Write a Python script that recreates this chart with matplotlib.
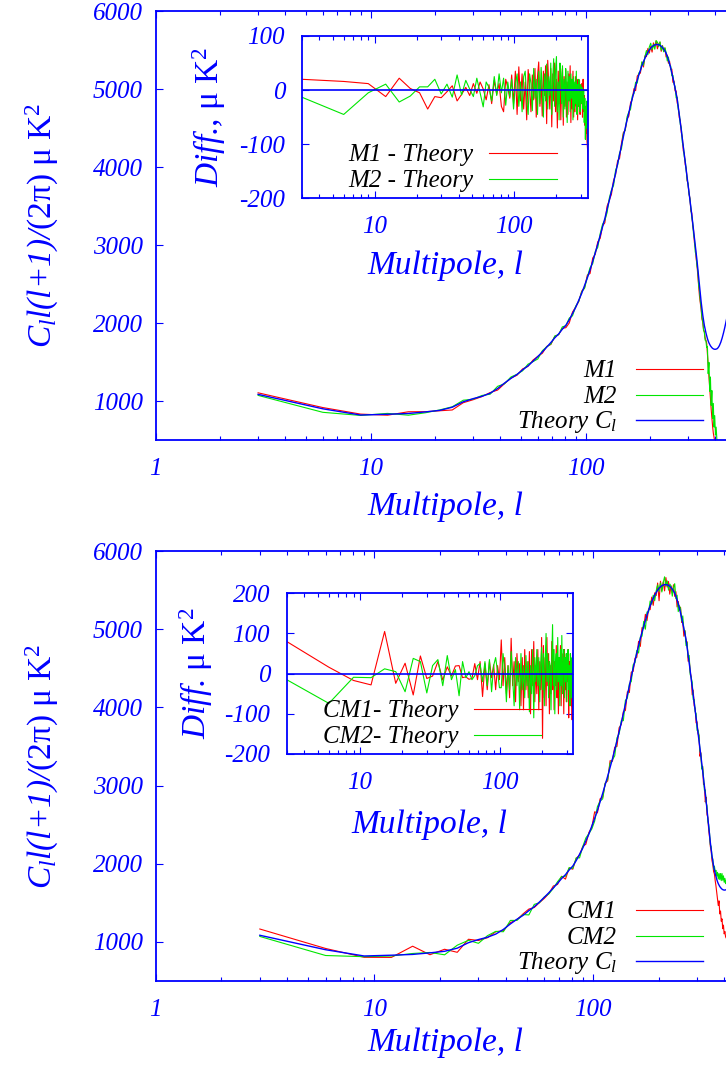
import numpy as np
import matplotlib
matplotlib.use('Agg')
import matplotlib.pyplot as plt
from matplotlib.lines import Line2D
from matplotlib.ticker import FixedLocator, FixedFormatter, LogLocator, NullFormatter, NullLocator

# ---------------- data ----------------
ell = np.arange(3, 454, 3)  # multipole grid (binned every 3)

theory = [1085, 900, 820, 830, 840, 860, 880, 920, 990, 1030,
          1060, 1100, 1160, 1230, 1290, 1340, 1400, 1450, 1510, 1570,
          1630, 1690, 1750, 1810, 1860, 1920, 1970, 2040, 2120, 2200,
          2290, 2380, 2480, 2580, 2680, 2790, 2900, 3010, 3120, 3230,
          3340, 3460, 3570, 3690, 3800, 3920, 4040, 4160, 4280, 4390,
          4500, 4600, 4700, 4790, 4880, 4960, 5040, 5110, 5180, 5240,
          5300, 5350, 5395, 5435, 5470, 5500, 5525, 5543, 5556, 5565,
          5570, 5570, 5568, 5560, 5548, 5532, 5512, 5488, 5460, 5420,
          5375, 5325, 5270, 5210, 5145, 5080, 5010, 4940, 4870, 4770,
          4670, 4570, 4470, 4360, 4260, 4160, 4060, 3965, 3870, 3775,
          3680, 3585, 3485, 3390, 3290, 3195, 3095, 3000, 2905, 2800,
          2690, 2580, 2470, 2370, 2270, 2180, 2100, 2030, 1970, 1920,
          1875, 1835, 1800, 1770, 1745, 1725, 1708, 1695, 1684, 1675,
          1669, 1665, 1663, 1663, 1665, 1668, 1675, 1685, 1698, 1714,
          1733, 1755, 1780, 1808, 1838, 1870, 1903, 1938, 1975, 2013,
          2050]

# M1 - Theory (top)
diff_m1 = [20, 16, 12, -12, 22, 3, -5, -35, -12, -14,
           -3, 8, -20, -8, 5, -10, 12, -6, 15, 2,
           -18, 10, -25, 18, -8, 12, -30, -40, 20, 5,
           -15, 28, -25, 35, -45, 43, -20, 30, -35, 15,
           -55, 38, 5, -40, 28, -18, 40, -50, 25, 52,
           -30, 18, -48, 35, -10, 45, -62, 55, 10, -35,
           40, -68, 30, -20, 50, -40, 20, -70, 35, -25,
           48, -55, 10, 40, -65, 25, -30, 38, -50, 15,
           -45, 30, -20, 45, -60, 20, -35, 35, -50, 10,
           -40, 25, -30, 20, -55, 15, -30, 18, -45, 5,
           -25, 12, -50, 20, -40, -10, -65, -30, -80, -60,
           -95, -110, -130, -120, -100, -130, -90, -120, -80, -110,
           -100, -90, -200, -320, -450, -560, -680, -800, -900, -1000,
           -1080, -1130, -1180, -1250]

# M2 - Theory (top)
diff_m2 = [-13, -45, -5, 11, -22, -11, 6, 6, 20, -7,
           11, -13, 28, -9, 18, 2, -12, 22, -5, -31,
           15, 5, -20, 25, -10, 30, -5, 22, -28, 15,
           -12, 20, -35, 10, 30, -30, 15, -40, 25, 35,
           -20, -45, 30, 12, -38, 40, -15, 20, -45, 35,
           -25, 42, 5, -50, 30, -20, 48, -35, 25, -10,
           50, -45, 20, 58, -30, 38, 62, -40, 15, -55,
           50, 30, -25, 45, -50, 20, -35, 40, 10, -60,
           35, -20, 25, -40, 30, -15, 20, -55, 25, -35,
           15, -25, 35, -45, 10, -30, 20, -15, -40, 10,
           -25, 5, -20, -35, 0, -60, -15, -91, -30, -70,
           -20, -100, -60, -90, -70, -110, -80, -120, -90, -140,
           -100, -150, -100, -420, -250, -600, -400, -750, -550, -900,
           -700, -1000, -850, -1100, -1000, -1150, -1250, -1300]

# CM1 - Theory (bottom)
diff_cm1 = [80, 16, -17, -28, 105, -24, 26, -53, 44, -12,
            -6, 30, -16, 17, -6, 19, 20, -10, -8, -14,
            -12, 25, -15, 30, -57, 25, -40, 30, -10, 22,
            -40, 20, -15, 84, -30, 40, -50, 20, -60, 88,
            -30, 30, -70, 50, -20, 25, -80, 40, -90, 60,
            -40, 30, -60, 55, -100, 60, -30, 80, -70, 20,
            -50, 60, -90, 30, -40, 90, -161, 70, -60, 40,
            -80, 90, -30, 50, -100, 20, -50, 80, -40, 60,
            -90, 30, -30, 70, -60, 10, -100, 40, -30, 70,
            -80, 50, -20, 30, -100, 60, -40, 20, -70, 40,
            -20, 60, -110, 30, -50, 50, -80, 20, -115, 50,
            -60, 10, -40, -30, -50, -20, -60, -40, -70, -50,
            -90, -120, -170, -220, -280, -200, -350, -300, -420, -380,
            -500, -450, -560, -530, -600, -620]

# CM2 - Theory (bottom)
diff_cm2 = [-15, -74, -9, -10, 12, 5, -45, 38, 30, -48,
            20, 35, -30, 45, -15, 10, -55, 30, -10, 5,
            -15, -5, 20, 25, -20, 30, -30, 35, -45, 20,
            40, 5, -35, -35, 50, 10, -70, 20, -40, 55,
            -10, -80, 40, -30, 30, -90, 50, -40, 20, -60,
            45, -30, 30, -95, 20, -50, 60, -110, 40, -20,
            60, -30, 40, -70, 20, 65, -40, 50, -80, 30,
            100, -20, 50, -60, 30, 20, -90, 40, 122, -30,
            60, -100, 30, 50, -40, 90, -20, 40, -80, 60,
            -30, 95, -50, 20, 60, -60, 40, -20, 50, -70,
            30, 60, -40, 20, -80, 50, 10, -60, 40, -20,
            50, -40, 30, 20, -30, 40, -20, 30, -40, 50,
            20, 80, 40, 120, 60, 150, 90, 180, 100, 200,
            120, 180, 100, 150, 80, 120]

main_yticks = [1000, 2000, 3000, 4000, 5000, 6000]
main_xticks = [1, 10, 100]
inset_xticks = [10, 100]
inset_yticks_top = [-200, -100, 0, 100]
inset_yticks_bot = [-200, -100, 0, 100, 200]

# ---------------- style ----------------
plt.rcParams['font.family'] = ['Liberation Serif', 'DejaVu Serif']
plt.rcParams['font.style'] = 'italic'
plt.rcParams['mathtext.fontset'] = 'custom'
plt.rcParams['mathtext.rm'] = 'Liberation Serif:style=normal'
plt.rcParams['mathtext.it'] = 'Liberation Serif:style=italic'
plt.rcParams['mathtext.bf'] = 'Liberation Serif:style=normal:weight=bold'
plt.rcParams['axes.unicode_minus'] = False

W, H = 726, 1065
BLUE = '#0000ff'
RED = '#ff0000'
GREEN = '#00e600'

fig = plt.figure(figsize=(W / 100, H / 100), dpi=100)


def rect(l, t, r, b):
    return [l / W, 1 - b / H, (r - l) / W, (b - t) / H]


def style(ax, xt, yt, xpad, ypad, fs=18):
    ax.set_xscale('log')
    for s in ax.spines.values():
        s.set_color(BLUE)
        s.set_linewidth(1.3)
    ax.xaxis.set_major_locator(FixedLocator(xt))
    ax.xaxis.set_major_formatter(FixedFormatter([str(v) for v in xt]))
    ax.xaxis.set_minor_locator(LogLocator(base=10, subs=range(2, 10), numticks=20))
    ax.xaxis.set_minor_formatter(NullFormatter())
    ax.yaxis.set_major_locator(FixedLocator(yt))
    ax.yaxis.set_major_formatter(FixedFormatter([str(v) for v in yt]))
    ax.yaxis.set_minor_locator(NullLocator())
    ax.tick_params(which='both', direction='in', top=True, right=True,
                   color=BLUE, width=0.8)
    ax.tick_params(which='major', length=4.8)
    ax.tick_params(which='minor', length=2.7)
    ax.tick_params(axis='x', which='major', pad=xpad, labelsize=fs, labelcolor=BLUE)
    ax.tick_params(axis='y', which='major', pad=ypad, labelsize=fs, labelcolor=BLUE)


def set_xlabel(ax, text, xc, ybase, fs=24):
    ax.set_xlabel(text, fontsize=fs, color=BLUE)
    ax.xaxis.set_label_coords(xc / W, 1 - ybase / H, transform=fig.transFigure)
    ax.xaxis.label.set_verticalalignment('baseline')


def set_ylabel(ax, text, xbase, yc, fs=24):
    ax.set_ylabel(text, fontsize=fs, color=BLUE)
    ax.yaxis.set_label_coords(xbase / W, 1 - yc / H, transform=fig.transFigure)
    ax.yaxis.label.set_verticalalignment('baseline')


def legend_rows(lines, labels, text_right, x0, x1, rows, fs=18):
    for ln, lab, y in zip(lines, labels, rows):
        fig.text(text_right / W, 1 - (y + 8) / H, lab, ha='right', va='baseline',
                 fontsize=fs, color='black')
        fig.add_artist(Line2D([x0 / W, x1 / W], [1 - y / H, 1 - y / H],
                              transform=fig.transFigure, color=ln.get_color(),
                              lw=ln.get_linewidth()))


ylab_main = r'$C_l$l(l+1)/$\mathrm{(2\pi)\ \mu\ K^2}$'

th = np.array(theory, dtype=float)


def panel(top, bottom, xmax, d1, d2, names, xlab_base, ins, ins_xmax, ins_yticks,
          ins_ylab, ins_ylab_x, ins_xlab_off, ins_leg):
    ax = fig.add_axes(rect(155.5, top, 155.5 + 580.3, bottom))
    n1, n2 = len(d1), len(d2)
    l1, = ax.plot(ell[:n1], th[:n1] + np.array(d1), color=RED, lw=0.8)
    l2, = ax.plot(ell[:n2], th[:n2] + np.array(d2), color=GREEN, lw=0.8)
    l3, = ax.plot(ell, th, color=BLUE, lw=1.0)
    ax.set_xlim(1, xmax)
    ax.set_ylim(500, 6000)
    style(ax, main_xticks, main_yticks, xpad=13, ypad=9)
    set_xlabel(ax, 'Multipole, l', 445, xlab_base)
    set_ylabel(ax, ylab_main, 52, (top + bottom) / 2)
    legend_rows([l1, l2, l3], [names[0], names[1], r'Theory $C_l$'],
                617, 636, 703, [bottom - 70.7, bottom - 45, bottom - 20])

    il, it, ir, ib = ins
    ax2 = fig.add_axes(rect(il, it, ir, ib))
    ax2.set_facecolor('white')
    k = np.array(ell) <= ins_xmax + 3
    m1 = min(n1, k.sum())
    m2 = min(n2, k.sum())
    a1, = ax2.plot(ell[:m1], np.array(d1[:m1]), color=RED, lw=0.8)
    a2, = ax2.plot(ell[:m2], np.array(d2[:m2]), color=GREEN, lw=0.8)
    ax2.axhline(0, color=BLUE, lw=1.2)
    ax2.set_xlim(3, ins_xmax)
    ax2.set_ylim(ins_yticks[0], ins_yticks[-1])
    style(ax2, inset_xticks, ins_yticks, xpad=13, ypad=12)
    set_xlabel(ax2, 'Multipole, l', (il + ir) / 2, ib + ins_xlab_off)
    set_ylabel(ax2, ins_ylab, ins_ylab_x, (it + ib) / 2)
    tr, x0, x1, rows = ins_leg
    legend_rows([a1, a2], [names[2], names[3]], tr, x0, x1, rows)
    return ax, ax2


panel(11, 440, 500, diff_m1, diff_m2,
      ['M1', 'M2', 'M1 - Theory', 'M2 - Theory'], 515,
      (301.7, 36, 588.3, 198.3), 340, inset_yticks_top,
      r'Diff., $\mathrm{\mu\ K^2}$', 219, 76,
      (473, 489, 557, [152.7, 178.7]))

panel(551, 981, 451, diff_cm1, diff_cm2,
      ['CM1', 'CM2', 'CM1- Theory', 'CM2- Theory'], 1051,
      (286.7, 593.3, 572.7, 754), 330, inset_yticks_bot,
      r'Diff. $\mathrm{\mu\ K^2}$', 206, 79,
      (458, 474, 541, [709.3, 734.7]))

fig.savefig('out.png', dpi=100)
